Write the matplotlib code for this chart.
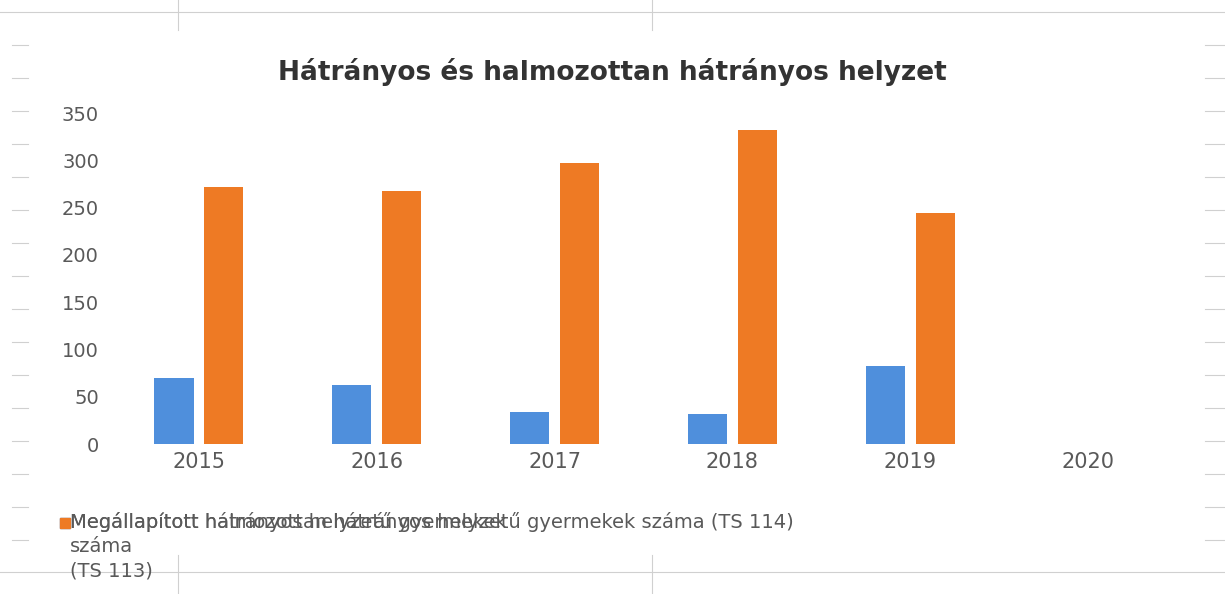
import matplotlib
matplotlib.use('Agg')
import numpy as np
import matplotlib.pyplot as plt
from matplotlib.patches import Rectangle
from matplotlib.lines import Line2D

# adatok
years = ['2015', '2016', '2017', '2018', '2019', '2020']
hh = [70, 62, 34, 32, 82, np.nan]        # TS 113
hhh = [272, 268, 297, 332, 244, np.nan]  # TS 114

title = 'Hátrányos és halmozottan hátrányos helyzet'
label_hh = 'Megállapított hátrányos helyzetű gyermekek\nszáma\n(TS 113)'
label_hhh = 'Megállapított halmozottan hátrányos helyzetű gyermekek száma (TS 114)'

blue = '#4f8fdc'
orange = '#ee7a24'
grey = '#595959'

plt.rcParams['font.family'] = ['DejaVu Sans']

fig = plt.figure(figsize=(12.25, 5.94), dpi=100)
ax = fig.add_axes([110 / 1225, 150 / 594, 1067 / 1225, 331 / 594])

x = np.arange(len(years))
w = 0.22
ax.bar(x - 0.14, hh, w, color=blue)
ax.bar(x + 0.14, hhh, w, color=orange)

ax.set_xlim(-0.5, len(years) - 0.5)
ax.set_ylim(0, 350)
ax.set_yticks(range(0, 351, 50))
ax.set_xticks(x)
ax.set_xticklabels(years)
ax.tick_params(axis='both', length=0, colors=grey)
ax.tick_params(axis='y', pad=8, labelsize=14)
ax.tick_params(axis='x', pad=6, labelsize=15)
for s in ax.spines.values():
    s.set_visible(False)

fig.text(0.5, 1 - 72 / 594, title, ha='center', va='center',
         fontsize=19, fontweight='bold', color='#333333')

# jelmagyarazat (az eredetiben egymasra csuszik)
fig.patches.append(Rectangle((60 / 1225, 1 - 528 / 594), 10 / 1225, 10 / 594,
                             transform=fig.transFigure, color=blue))
fig.patches.append(Rectangle((60 / 1225, 1 - 528 / 594), 10 / 1225, 10 / 594,
                             transform=fig.transFigure, color=orange))
fig.text(70 / 1225, 1 - 512 / 594, label_hh, ha='left', va='top',
         fontsize=14, color=grey, linespacing=1.35)
fig.text(70 / 1225, 1 - 512 / 594, label_hhh, ha='left', va='top',
         fontsize=14, color=grey)

# a szkennelt tablazat halvany vonalai
lc = '#d0d0d0'
fig.add_artist(Line2D([0, 1], [1 - 12 / 594, 1 - 12 / 594], color=lc, lw=0.8))
fig.add_artist(Line2D([0, 1], [1 - 572 / 594, 1 - 572 / 594], color=lc, lw=0.8))
for xv in [178, 652]:
    fig.add_artist(Line2D([xv / 1225] * 2, [1, 1 - 30 / 594], color=lc, lw=0.8))
    fig.add_artist(Line2D([xv / 1225] * 2, [1 - 555 / 594, 0], color=lc, lw=0.8))
for yv in np.arange(45, 560, 33):
    fig.add_artist(Line2D([12 / 1225, 28 / 1225], [1 - yv / 594] * 2, color=lc, lw=0.8))
    fig.add_artist(Line2D([1205 / 1225, 1], [1 - yv / 594] * 2, color=lc, lw=0.8))

fig.savefig('out.png', dpi=100)
